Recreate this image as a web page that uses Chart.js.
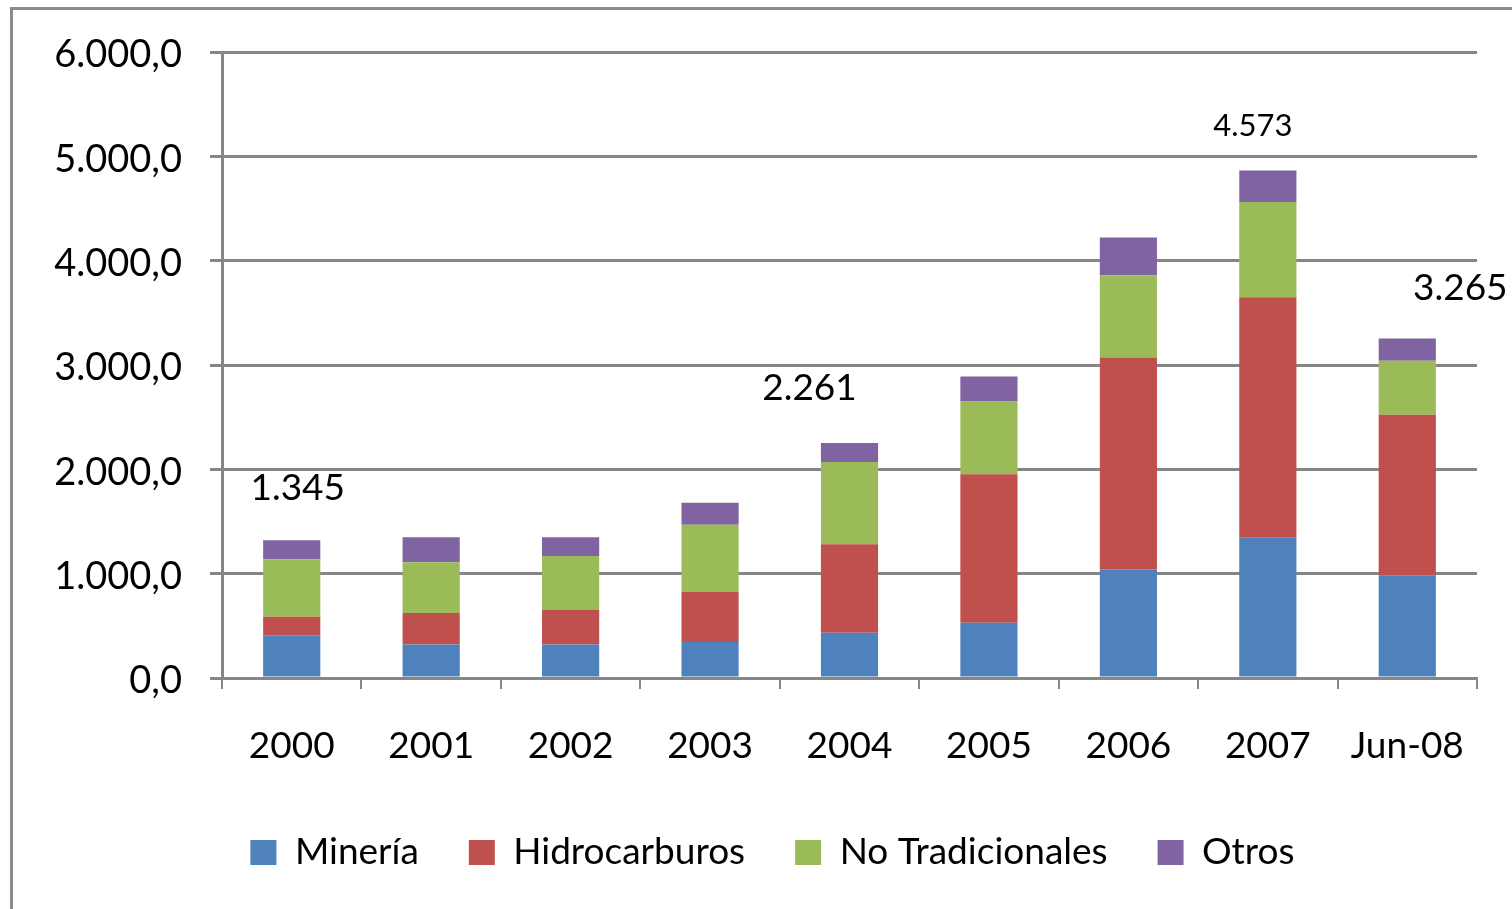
<!DOCTYPE html>
<html>
<head>
<meta charset="utf-8">
<script src="https://cdn.jsdelivr.net/npm/chart.js@4/dist/chart.umd.min.js"></script>
<style>
    html, body { margin: 0; padding: 0; background: #fff; overflow: hidden; }
    #frame {
        position: absolute; left: 10px; top: 7px;
        width: 1530px; height: 930px;
        border: 3px solid #8c8c8c;
    }
    #wrap { position: absolute; left: 0; top: 0; width: 1512px; height: 909px; }
</style>
</head>
<body>
<div id="frame"></div>
<div id="wrap"><canvas id="exportChart"></canvas></div>
<script>
    const categories = ["2000", "2001", "2002", "2003", "2004", "2005", "2006", "2007", "Jun-08"];
    const mineria = [404, 321, 321, 346, 433, 529, 1043, 1344, 980];
    const hidrocarburos = [183, 301, 330, 478, 849, 1423, 2030, 2305, 1543];
    const noTradicionales = [551, 487, 519, 644, 789, 697, 788, 914, 517];
    const otros = [183, 240, 179, 211, 182, 240, 361, 301, 215];
    const totalLabels = ["1.345", "", "", "", "2.261", "", "", "4.573", "3.265"];
    const yTicks = [0, 1000, 2000, 3000, 4000, 5000, 6000];

    const gridGrey = "#868686";

    function formatEs(v) {
        const s = String(Math.round(v));
        return s.replace(/\B(?=(\d{3})+(?!\d))/g, ".") + ",0";
    }

    // loose total labels above some bars (dx, dy from top of the stack)
    const labelPlugin = {
        id: "totalLabels",
        afterDatasetsDraw(chart) {
            const ctx = chart.ctx;
            const meta = chart.getDatasetMeta(3);
            const offsets = [[6, -52], null, null, null, [-40, -55], null, null, [-15, -45], [53, -50]];
            ctx.save();
            ctx.fillStyle = "#000";
            ctx.textAlign = "center";
            ctx.textBaseline = "middle";
            totalLabels.forEach((txt, i) => {
                if (!txt) return;
                const bar = meta.data[i];
                ctx.font = (i === 7 ? "31px" : "37px") + " Lato";
                ctx.fillText(txt, bar.x + offsets[i][0], bar.y + offsets[i][1]);
            });
            ctx.restore();
        }
    };

    const legendShift = {
        id: "legendShift",
        afterLayout(chart) {
            chart.legend.left += 17;
            chart.legend.right += 17;
        }
    };

    const colors = ["#4F81BD", "#C0504D", "#9BBB59", "#8064A2"];
    const names = ["Minería", "Hidrocarburos", "No Tradicionales", "Otros"];
    const series = [mineria, hidrocarburos, noTradicionales, otros];

    new Chart(document.getElementById("exportChart"), {
        type: "bar",
        data: {
            labels: categories,
            datasets: series.map((d, i) => ({
                label: names[i],
                data: d,
                backgroundColor: colors[i],
                borderWidth: 0,
                categoryPercentage: 1,
                barPercentage: 0.41
            }))
        },
        options: {
            responsive: true,
            maintainAspectRatio: false,
            animation: false,
            layout: { padding: { left: 34, right: 35, top: 52, bottom: 28 } },
            plugins: {
                legend: {
                    position: "bottom",
                    labels: {
                        boxWidth: 26,
                        boxHeight: 25,
                        padding: 50,
                        color: "#000",
                        font: { family: "Lato", size: 37 }
                    }
                },
                tooltip: { enabled: false }
            },
            scales: {
                x: {
                    stacked: true,
                    grid: {
                        offset: true,
                        drawOnChartArea: false,
                        drawTicks: true,
                        tickLength: 11,
                        color: gridGrey,
                        lineWidth: 2
                    },
                    border: { display: true, color: gridGrey, width: 3 },
                    ticks: {
                        color: "#000",
                        padding: 35,
                        maxRotation: 0,
                        font: { family: "Lato", size: 37 }
                    },
                    afterFit(scale) { scale.height = 106; }
                },
                y: {
                    stacked: true,
                    min: 0,
                    max: 6000,
                    afterBuildTicks(scale) {
                        scale.ticks = yTicks.map(v => ({ value: v }));
                    },
                    grid: {
                        color: gridGrey,
                        lineWidth: 3,
                        tickLength: 12
                    },
                    border: { display: true, color: gridGrey, width: 3 },
                    ticks: {
                        color: "#000",
                        padding: 28,
                        labelOffset: 3,
                        font: { family: "Lato", size: 38 },
                        callback: (v) => formatEs(v)
                    },
                    afterFit(scale) { scale.width = 188; }
                }
            }
        },
        plugins: [labelPlugin, legendShift]
    });
</script>
</body>
</html>
